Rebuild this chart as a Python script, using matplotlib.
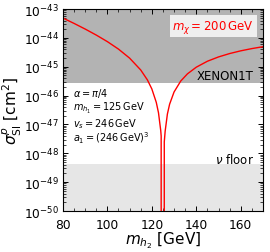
import numpy as np
import matplotlib
matplotlib.use("Agg")
import matplotlib.pyplot as plt

# sigma_SI^p vs m_h2 for m_chi = 200 GeV
m_h2 = [80, 85, 90, 95, 100, 105, 110, 115, 118, 120, 122, 123, 124, 124.2,
        125, 125.6, 126, 127, 128, 130, 133, 136, 140, 145, 150, 155, 160, 165, 170]
sigma = [4.9e-44, 3.2e-44, 2.04e-44, 1.26e-44, 7.46e-45, 4.11e-45, 2.0e-45,
         7.76e-46, 3.52e-46, 1.71e-46, 5.85e-47, 2.54e-47, 6.2e-48, 4.0e-48,
         0.0, 2.5e-48, 5.9e-48, 2.3e-47, 5.06e-47, 1.34e-46, 3.21e-46, 5.68e-46,
         9.7e-46, 1.56e-45, 2.2e-45, 2.88e-45, 3.58e-45, 4.28e-45, 4.98e-45]

xenon1t_limit = 2.75e-46
nu_floor = 4.3e-49
y_range = [1e-50, 1e-43]
x_range = [80, 170]

params = [r"$\alpha=\pi/4$",
          r"$m_{h_1}=125\,\mathrm{GeV}$",
          r"$v_s=246\,\mathrm{GeV}$",
          r"$a_1=(246\,\mathrm{GeV})^3$"]

plt.rcParams["mathtext.fontset"] = "dejavusans"

fig = plt.figure(figsize=(2.7, 2.53), dpi=100)
ax = fig.add_axes([0.233, 0.162, 0.741, 0.798])

ax.fill_between(x_range, xenon1t_limit, y_range[1], color="#b3b3b3", lw=0, zorder=0)
ax.fill_between(x_range, y_range[0], nu_floor, color="#e6e6e6", lw=0, zorder=0)
ax.plot(m_h2, sigma, color="red", lw=1.0, zorder=2)

ax.set_yscale("log")
ax.set_xlim(*x_range)
ax.set_ylim(*y_range)
ax.set_yticks([10.0 ** k for k in range(-50, -42)])
ax.set_xticks([80, 100, 120, 140, 160])
ax.set_xticks(np.arange(80, 171, 5), minor=True)
ax.tick_params(which="both", direction="in", top=True, right=True, labelsize=8.8)
ax.tick_params(which="major", length=3.5, width=0.7)
ax.tick_params(which="minor", length=2, width=0.5)
ax.tick_params(axis="x", pad=5)
ax.tick_params(axis="y", pad=2.5)
for s in ax.spines.values():
    s.set_linewidth(0.8)

ax.set_xlabel(r"$m_{h_2}$ [GeV]", fontsize=11, labelpad=-1)
ax.set_ylabel(r"$\sigma^p_{\rm SI}$ [cm$^2$]", fontsize=11, labelpad=0)

ax.text(0.955, 0.915, r"$m_\chi=200\,\mathrm{GeV}$", color="red", fontsize=8.5,
        transform=ax.transAxes, ha="right", va="center",
        bbox=dict(boxstyle="square,pad=0.22", facecolor="white", alpha=0.8, edgecolor="none"))
ax.text(0.955, 0.672, "XENON1T", fontsize=8.5, transform=ax.transAxes,
        ha="right", va="center")
ax.text(0.955, 0.26, r"$\nu$ floor", fontsize=8.5, transform=ax.transAxes,
        ha="right", va="center")
for i, p in enumerate(params):
    ax.text(0.05, 0.585 - i * 0.074, p, fontsize=7, transform=ax.transAxes,
            ha="left", va="center")

fig.savefig("out.png", dpi=100)
